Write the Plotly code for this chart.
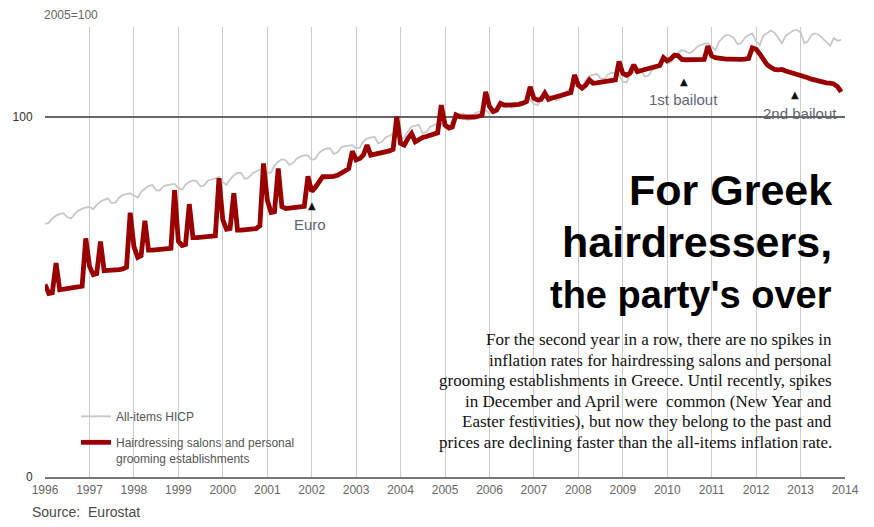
import pandas as pd
import plotly.graph_objects as go

# ---------------- data (2005 = 100), monthly Jan 1996 .. Dec 2013 ----------------
months = pd.date_range("1996-01-01", periods=216, freq="MS")

hicp_all_items = [
    70.3, 70.6, 71.8, 72.6, 73.1, 73.3, 72.2, 71.8, 73.0, 74.0, 74.5, 74.9,   # 1996
    75.0, 74.4, 75.6, 76.5, 77.0, 77.4, 76.1, 76.2, 77.6, 78.3, 78.6, 78.8,   # 1997
    78.2, 77.6, 79.2, 80.2, 80.9, 81.1, 79.7, 79.6, 80.8, 81.1, 81.3, 81.4,   # 1998
    80.3, 79.8, 81.2, 82.0, 82.4, 82.2, 80.7, 81.0, 82.3, 82.7, 83.1, 83.3,   # 1999
    81.9, 81.1, 82.7, 83.8, 84.5, 84.4, 82.8, 83.2, 84.4, 85.0, 85.4, 85.5,   # 2000
    84.4, 84.6, 86.5, 87.6, 88.3, 88.0, 86.7, 87.2, 88.5, 89.0, 89.4, 89.3,   # 2001
    88.1, 88.4, 90.0, 90.8, 91.2, 91.3, 89.7, 90.2, 91.6, 91.9, 92.1, 92.2,   # 2002
    91.3, 91.5, 93.2, 94.0, 94.3, 94.5, 92.7, 93.1, 94.3, 94.9, 95.3, 95.4,   # 2003
    94.0, 94.3, 96.0, 97.3, 97.6, 97.8, 95.4, 95.8, 97.3, 97.8, 98.2, 98.2,   # 2004
    96.9, 97.0, 99.0, 100.4, 100.8, 100.9, 99.2, 99.4, 101.0, 101.4, 101.6, 101.8,  # 2005
    101.0, 101.2, 102.6, 103.6, 103.9, 103.7, 102.5, 102.8, 104.0, 104.4, 104.6, 104.9,  # 2006
    103.6, 103.3, 104.8, 105.8, 106.0, 105.9, 104.6, 104.9, 106.4, 107.2, 107.8, 108.6,  # 2007
    108.4, 108.0, 110.2, 111.4, 111.7, 112.0, 110.8, 110.5, 111.8, 112.3, 112.1, 111.6,  # 2008
    109.8, 109.6, 111.6, 112.4, 112.6, 112.8, 111.2, 111.6, 113.1, 113.6, 114.5, 115.6,  # 2009
    115.0, 115.2, 116.6, 117.8, 118.6, 118.3, 117.7, 118.3, 119.4, 120.0, 120.3, 120.5,  # 2010
    119.5, 118.6, 120.8, 122.0, 122.8, 122.6, 122.0, 120.3, 120.5, 122.0, 122.8, 123.2,  # 2011
    121.0, 120.0, 122.6, 123.4, 124.0, 123.4, 122.0, 120.5, 122.6, 123.4, 124.0, 124.2,  # 2012
    123.5, 120.5, 121.0, 122.8, 123.2, 122.8, 121.8, 121.0, 119.8, 121.9, 121.2, 121.4,  # 2013
]

hairdressing = [
    53.5, 51.0, 51.2, 59.4, 52.0, 52.2, 52.4, 52.5, 52.6, 52.7, 53.0, 66.3,   # 1996
    58.5, 56.2, 56.5, 65.4, 57.3, 57.4, 57.4, 57.5, 57.6, 57.8, 58.3, 73.4,   # 1997
    64.0, 61.0, 61.5, 71.2, 63.0, 63.0, 63.1, 63.1, 63.2, 63.2, 63.5, 79.7,   # 1998
    65.5, 64.3, 64.6, 75.8, 66.5, 66.5, 66.6, 66.6, 66.7, 66.7, 67.0, 83.0,   # 1999
    71.5, 68.8, 69.0, 78.8, 68.6, 68.6, 68.7, 68.7, 68.8, 69.0, 69.8, 87.1,   # 2000
    76.9, 73.5, 73.7, 85.7, 75.1, 74.6, 74.7, 74.8, 74.8, 74.9, 75.2, 83.5,   # 2001
    79.3, 80.5, 82.0, 83.4, 83.4, 83.4, 83.5, 83.8, 84.3, 85.0, 85.7, 90.5,   # 2002
    88.1, 88.5, 89.4, 92.2, 89.4, 89.6, 89.8, 90.0, 90.3, 90.6, 91.0, 100.1,  # 2003
    92.7, 92.2, 94.0, 95.4, 93.1, 93.8, 94.3, 94.6, 94.9, 95.1, 95.6, 103.3,  # 2004
    97.8, 96.9, 97.2, 100.6, 100.1, 100.0, 99.9, 99.9, 100.0, 100.2, 100.5, 107.0,  # 2005
    102.9, 101.5, 101.9, 103.8, 103.3, 103.3, 103.3, 103.4, 103.5, 103.8, 104.3, 108.4,  # 2006
    105.2, 104.7, 104.9, 106.6, 104.9, 105.3, 105.6, 105.8, 106.0, 106.3, 106.8, 111.7,  # 2007
    108.9, 108.0, 108.8, 110.3, 109.4, 109.5, 109.6, 109.7, 109.8, 110.0, 110.3, 115.4,  # 2008
    112.1, 111.6, 112.2, 114.5, 112.6, 112.9, 113.2, 113.4, 113.7, 114.0, 114.3, 116.5,  # 2009
    115.6, 116.2, 117.2, 117.0, 116.0, 115.9, 115.9, 115.9, 115.9, 116.0, 116.0, 119.7,  # 2010
    117.0, 116.5, 116.3, 116.2, 116.1, 116.1, 116.0, 116.0, 116.0, 116.1, 116.3, 119.2,  # 2011
    118.8, 117.5, 115.8, 114.5, 113.8, 113.2, 113.1, 113.2, 112.8, 112.5, 112.3, 112.0,  # 2012
    111.8, 111.2, 110.9, 110.5, 110.2, 110.0, 109.7, 109.5, 109.4, 109.2, 108.4, 107.0,  # 2013
]

series_names = ["All-items HICP", "Hairdressing salons and personal<br>grooming establishments"]
y_tick_values = [0, 100]
y_tick_labels = ["0", "100"]
# event label, marker date, label date, marker level (index points)
events = [
    ("Euro", "2002-01-01", "2001-12-20", 75.3),
    ("1st bailout", "2010-05-20", "2010-05-15", 110.0),
    ("2nd bailout", "2012-11-20", "2012-12-28", 106.2),
]
title_lines = ["For Greek", "hairdressers,", "the party's over"]
body_lines = [
    "For the second year in a row, there are no spikes in",
    "inflation rates for hairdressing salons and personal",
    "grooming establishments in Greece. Until recently, spikes",
    "in December and April were  common (New Year and",
    "Easter festivities), but now they belong to the past and",
    "prices are declining faster than the all-items inflation rate.",
]

# ---------------- style ----------------
SANS = "Liberation Sans, Arial, sans-serif"
SERIF = "Liberation Serif, Times New Roman, serif"
RED = "#990000"
GREY_LINE = "#c8c8c8"
ANN = "#5d6675"

def px_x(px):   # pixel -> paper x
    return (px - 45) / 800.0

def px_y(py):   # pixel -> paper y
    return (477 - py) / 450.0

fig = go.Figure()
fig.add_trace(go.Scatter(x=months, y=hicp_all_items, mode="lines", name=series_names[0],
                         legendgroup="a", line=dict(color=GREY_LINE, width=1.8), hoverinfo="skip"))
fig.add_trace(go.Scatter(x=months, y=hairdressing, mode="lines", name=series_names[1],
                         legendgroup="b", line=dict(color=RED, width=4.8), hoverinfo="skip"))

# white boxes that interrupt the grid behind the legend and the text blocks
for x0, x1, y0, y1 in [(72, 321, 468, 405), (520, 841, 468, 155), (449, 841, 468, 324)]:
    fig.add_shape(type="rect", xref="paper", yref="paper", x0=px_x(x0), x1=px_x(x1),
                  y0=px_y(y0), y1=px_y(y1), fillcolor="white", line=dict(width=0), layer="between")

annotations = []
for label, mdate, ldate, lvl in events:
    annotations.append(dict(x=mdate, y=lvl, xref="x", yref="y", text="▲", showarrow=False,
                            font=dict(size=10, color="#111", family="DejaVu Sans"), yanchor="middle"))
    annotations.append(dict(x=ldate, y=lvl - 2.3, xref="x", yref="y", text=label, showarrow=False,
                            font=dict(size=15, color=ANN, family=SANS), yanchor="top"))

title_centres = [190, 242, 295]
title_sizes = [43, 43, 38]
for line, yc, sz in zip(title_lines, title_centres, title_sizes):
    annotations.append(dict(x=px_x(834), y=px_y(yc), xref="paper", yref="paper",
                            text=f"<b>{line}</b>", showarrow=False, xanchor="right", yanchor="middle",
                            font=dict(size=sz, color="#000", family=SANS)))

for i, line in enumerate(body_lines):
    annotations.append(dict(x=px_x(834), y=px_y(340 + i * 20.4), xref="paper", yref="paper",
                            text=line, showarrow=False, xanchor="right", yanchor="middle",
                            font=dict(size=17, color="#111", family=SERIF)))

annotations.append(dict(x=px_x(42), y=px_y(15), xref="paper", yref="paper", text="2005=100",
                        showarrow=False, xanchor="left", yanchor="middle",
                        font=dict(size=12, color="#666", family=SANS)))
annotations.append(dict(x=px_x(30), y=px_y(512), xref="paper", yref="paper", text="Source:  Eurostat",
                        showarrow=False, xanchor="left", yanchor="middle",
                        font=dict(size=14, color="#4a4a4a", family=SANS)))

fig.update_layout(
    width=874, height=527,
    margin=dict(l=45, r=29, t=27, b=50, pad=0),
    paper_bgcolor="white", plot_bgcolor="white",
    showlegend=True,
    legend=dict(x=px_x(76), y=px_y(402), xanchor="left", yanchor="top", bgcolor="rgba(0,0,0,0)",
                font=dict(size=12, color="#555", family=SANS), valign="top",
                itemwidth=30, tracegroupgap=7),
    annotations=annotations,
    xaxis=dict(type="date", range=["1996-01-01", "2014-01-01"], tick0="1996-01-01", dtick="M12",
               tickformat="%Y", showgrid=True, gridcolor="#cccccc", gridwidth=1,
               showline=True, linecolor="#777", linewidth=2, ticks="outside", ticklen=1,
               tickcolor="rgba(0,0,0,0)", zeroline=False,
               tickfont=dict(size=12, color="#666", family=SANS)),
    yaxis=dict(range=[0, 125], tickvals=y_tick_values, ticktext=y_tick_labels, showgrid=True,
               gridcolor="#666", gridwidth=1.5, zeroline=False, showline=False,
               ticks="outside", ticklen=9, tickcolor="rgba(0,0,0,0)",
               tickfont=dict(size=12, color="#333", family=SANS)),
)

fig.write_html("out.html")
